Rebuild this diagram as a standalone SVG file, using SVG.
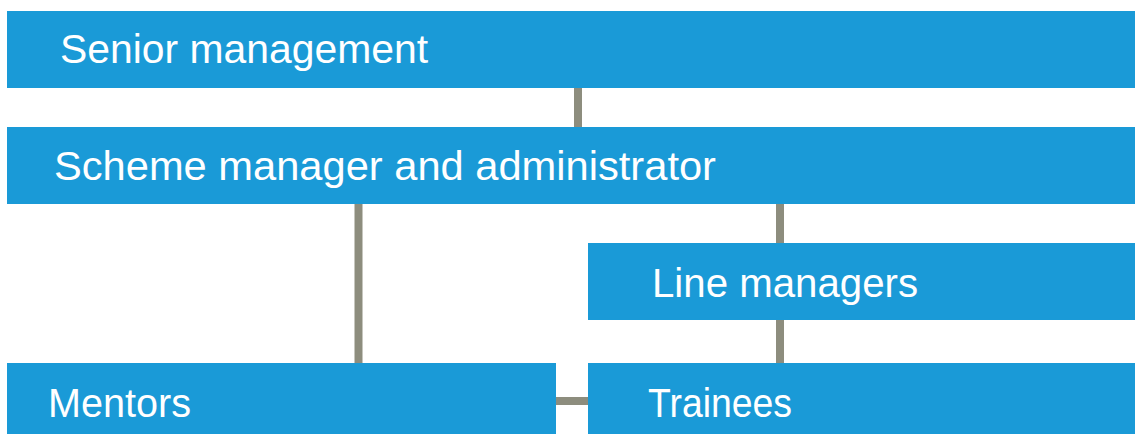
<svg xmlns="http://www.w3.org/2000/svg" width="1135" height="434" viewBox="0 0 1135 434">
<style>
.box{fill:#1a9ad7}
.lbl{font-family:"Liberation Sans",Arial,sans-serif;font-size:40px;fill:#ffffff}
.con{stroke:#8d8d7e;stroke-width:8;fill:none}
</style>
<rect width="1135" height="434" fill="#ffffff"/>
<g id="connectors">
<line class="con" x1="578" y1="87" x2="578" y2="128"/>
<line class="con" x1="358.5" y1="203" x2="358.5" y2="364"/>
<line class="con" x1="780" y1="203" x2="780" y2="244"/>
<line class="con" x1="780" y1="319" x2="780" y2="364"/>
<line class="con" x1="555" y1="401" x2="589" y2="401"/>
</g>
<g id="senior">
<rect class="box" x="7" y="11" width="1128" height="77"/>
<text class="lbl" x="60" y="63" textLength="368" lengthAdjust="spacingAndGlyphs">Senior management</text>
</g>
<g id="scheme">
<rect class="box" x="7" y="127" width="1128" height="77"/>
<text class="lbl" x="54" y="180" textLength="662" lengthAdjust="spacingAndGlyphs">Scheme manager and administrator</text>
</g>
<g id="line-managers">
<rect class="box" x="588" y="243" width="547" height="77"/>
<text class="lbl" x="652" y="297" textLength="266" lengthAdjust="spacingAndGlyphs">Line managers</text>
</g>
<g id="mentors">
<rect class="box" x="7" y="363" width="549" height="71"/>
<text class="lbl" x="48" y="417" textLength="143" lengthAdjust="spacingAndGlyphs">Mentors</text>
</g>
<g id="trainees">
<rect class="box" x="588" y="363" width="547" height="71"/>
<text class="lbl" x="648" y="417" textLength="144" lengthAdjust="spacingAndGlyphs">Trainees</text>
</g>
</svg>
